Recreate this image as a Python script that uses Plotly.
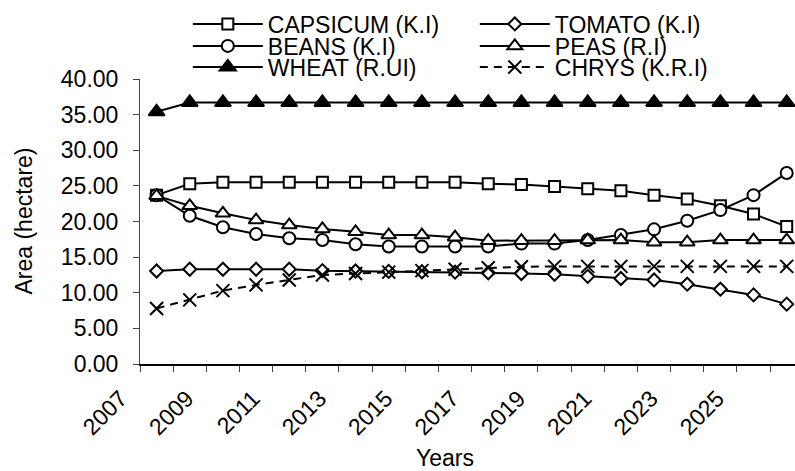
import plotly.graph_objects as go

years = list(range(2007, 2027))
label_years = list(range(2007, 2026, 2))
y_ticks = [0, 5, 10, 15, 20, 25, 30, 35, 40]

capsicum = [23.7, 25.3, 25.5, 25.5, 25.5, 25.5, 25.5, 25.5, 25.5, 25.5,
            25.3, 25.2, 24.9, 24.6, 24.3, 23.7, 23.15, 22.2, 21.05, 19.3]
tomato = [13.05, 13.3, 13.3, 13.3, 13.3, 13.1, 13.05, 13.0, 12.95, 12.9,
          12.8, 12.7, 12.6, 12.3, 12.0, 11.8, 11.2, 10.5, 9.7, 8.4]
beans = [23.7, 20.8, 19.2, 18.25, 17.65, 17.4, 16.8, 16.5, 16.5, 16.5,
         16.5, 16.9, 16.9, 17.4, 18.1, 18.9, 20.1, 21.6, 23.7, 26.8]
peas = [23.6, 22.2, 21.15, 20.2, 19.5, 18.95, 18.55, 18.1, 18.1, 17.8,
        17.3, 17.3, 17.3, 17.4, 17.4, 17.1, 17.1, 17.4, 17.4, 17.4]
wheat = [35.4, 36.7, 36.7, 36.7, 36.7, 36.7, 36.7, 36.7, 36.7, 36.7,
         36.7, 36.7, 36.7, 36.7, 36.7, 36.7, 36.7, 36.7, 36.7, 36.7]
chrys = [7.8, 9.0, 10.3, 11.1, 11.8, 12.5, 12.7, 12.9, 13.1, 13.3,
         13.5, 13.65, 13.7, 13.7, 13.7, 13.7, 13.7, 13.7, 13.7, 13.7]

names = ["CAPSICUM (K.I)", "TOMATO (K.I)", "BEANS (K.I)", "PEAS (R.I)",
         "WHEAT (R.UI)", "CHRYS (K.R.I)"]

FONT = "Liberation Sans, Arial, sans-serif"
FS = 23

styles = [
    dict(symbol="square", fill="white", size=11, dash="solid", legend="legend"),
    dict(symbol="diamond", fill="white", size=10, dash="solid", legend="legend"),
    dict(symbol="circle", fill="white", size=12, dash="solid", legend="legend2"),
    dict(symbol="triangle-up", fill="white", size=13, dash="solid", legend="legend2"),
    dict(symbol="triangle-up", fill="black", size=14, dash="solid", legend="legend3"),
    dict(symbol="x-thin", fill="black", size=13, dash="8px,6px", legend="legend3"),
]

fig = go.Figure()
for name, vals, st in zip(names, [capsicum, tomato, beans, peas, wheat, chrys], styles):
    fig.add_trace(go.Scatter(
        x=years, y=vals, name=name, mode="lines+markers",
        line=dict(color="black", width=2, dash=st["dash"]),
        marker=dict(symbol=st["symbol"], size=st["size"], color=st["fill"],
                    line=dict(color="black", width=2)),
        legend=st["legend"],
    ))

fig.update_xaxes(
    range=[2006.5, 2026.25],
    tickmode="array",
    tickvals=label_years,
    ticktext=[str(y) for y in label_years],
    tickangle=-45,
    ticks="",
    ticklabelshift=-36,
    ticklabelstandoff=10,
    showgrid=False, zeroline=False,
    showline=True, linecolor="black", linewidth=2,
    tickfont=dict(family=FONT, size=FS, color="black"),
    minor=dict(tickmode="linear", tick0=2006.5, dtick=1, ticks="outside",
               ticklen=6, tickwidth=1, tickcolor="#444", showgrid=False),
)
fig.update_yaxes(
    range=[0, 40],
    tickmode="array",
    tickvals=y_ticks,
    ticktext=[f"{v:.2f}" for v in y_ticks],
    ticks="outside", ticklen=6, tickwidth=1, tickcolor="#444",
    showgrid=False, zeroline=False,
    showline=True, linecolor="#444", linewidth=1,
    tickfont=dict(family=FONT, size=FS, color="black"),
    ticklabelstandoff=10,
)

legend_common = dict(orientation="h", xanchor="left", yanchor="middle",
                     font=dict(family=FONT, size=FS, color="black"),
                     bgcolor="rgba(0,0,0,0)", itemwidth=70,
                     entrywidth=202, entrywidthmode="pixels",
                     traceorder="normal", itemclick=False)
fig.update_layout(
    width=795, height=471,
    margin=dict(l=140, r=0, t=79, b=107, pad=0),
    paper_bgcolor="white", plot_bgcolor="white",
    font=dict(family=FONT, size=FS, color="black"),
    legend=dict(x=0.073, y=1.193, **legend_common),
    legend2=dict(x=0.073, y=1.116, **legend_common),
    legend3=dict(x=0.073, y=1.042, **legend_common),
    annotations=[
        dict(text="Years", xref="paper", yref="paper", x=0.466, y=-0.33,
             xanchor="center", yanchor="middle", showarrow=False,
             font=dict(family=FONT, size=FS, color="black")),
        dict(text="Area (hectare)", xref="paper", yref="paper", x=-0.1786, y=0.5,
             xanchor="center", yanchor="middle", showarrow=False, textangle=-90,
             font=dict(family=FONT, size=FS, color="black")),
    ],
)

fig.write_html("out.html")
